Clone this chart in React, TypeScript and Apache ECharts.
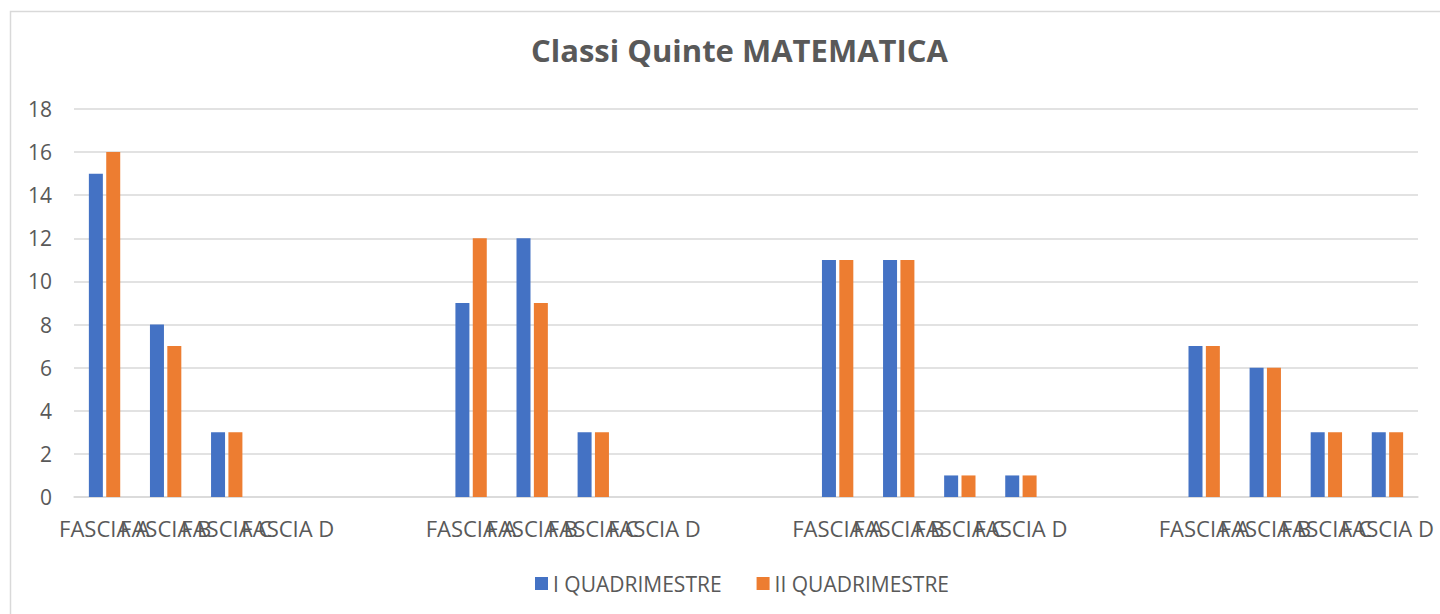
import React, { useEffect, useRef } from "react";
import * as echarts from "echarts";

const categories = [
  "FASCIA A", "FASCIA B", "FASCIA C", "FASCIA D", "", "",
  "FASCIA A", "FASCIA B", "FASCIA C", "FASCIA D", "", "",
  "FASCIA A", "FASCIA B", "FASCIA C", "FASCIA D", "", "",
  "FASCIA A", "FASCIA B", "FASCIA C", "FASCIA D",
];
const seriesNames = ["I QUADRIMESTRE", "II QUADRIMESTRE"];
const primoQuadrimestre = [
  15, 8, 3, 0, null, null,
  9, 12, 3, 0, null, null,
  11, 11, 1, 1, null, null,
  7, 6, 3, 3,
];
const secondoQuadrimestre = [
  16, 7, 3, 0, null, null,
  12, 9, 3, 0, null, null,
  11, 11, 1, 1, null, null,
  7, 6, 3, 3,
];
const titleText = "Classi Quinte MATEMATICA";

const FONT = "'Open Sans', 'Noto Sans', sans-serif";
const TEXT = "#595959";

export default function App() {
  const ref = useRef<HTMLDivElement>(null);
  useEffect(() => {
    if (!ref.current) return;
    const chart = echarts.init(ref.current, undefined, { renderer: "svg" });
    chart.setOption({
      animation: false,
      backgroundColor: "#ffffff",
      textStyle: { fontFamily: FONT },
      title: {
        text: titleText,
        left: 526,
        top: 29,
        textStyle: { fontFamily: FONT, fontSize: 31, fontWeight: "bold", color: TEXT },
      },
      graphic: [
        {
          type: "rect",
          shape: { x: 10.5, y: 11.5, width: 1500, height: 700 },
          style: { fill: "none", stroke: "#D9D9D9", lineWidth: 1.5 },
          silent: true,
        },
      ],
      legend: {
        left: 530,
        top: 568,
        itemWidth: 13,
        itemHeight: 13,
        itemGap: 35,
        icon: "rect",
        textStyle: { fontFamily: FONT, fontSize: 21, color: TEXT },
        data: seriesNames,
      },
      grid: { left: 74, right: 22, top: 109, bottom: 117, containLabel: false },
      xAxis: {
        type: "category",
        data: categories,
        axisLine: { show: true, lineStyle: { color: "#D9D9D9", width: 1.5 } },
        axisTick: { show: false },
        axisLabel: {
          interval: 0,
          hideOverlap: false,
          margin: 20,
          fontFamily: FONT,
          fontSize: 22,
          color: TEXT,
        },
      },
      yAxis: {
        type: "value",
        min: 0,
        max: 18,
        interval: 2,
        axisLine: { show: false },
        axisTick: { show: false },
        axisLabel: { margin: 22, fontFamily: FONT, fontSize: 21, color: TEXT },
        splitLine: { lineStyle: { color: "#D9D9D9", width: 1.5 } },
      },
      series: [
        {
          name: seriesNames[0],
          type: "bar",
          data: primoQuadrimestre,
          barWidth: 14,
          barGap: "24%",
          itemStyle: { color: "#4472C4" },
        },
        {
          name: seriesNames[1],
          type: "bar",
          data: secondoQuadrimestre,
          barWidth: 14,
          barGap: "24%",
          itemStyle: { color: "#ED7D31" },
        },
      ],
    });
    return () => chart.dispose();
  }, []);
  return (
    <div
      ref={ref}
      style={{ position: "absolute", left: 0, top: 0, width: 1440, height: 614 }}
    />
  );
}
